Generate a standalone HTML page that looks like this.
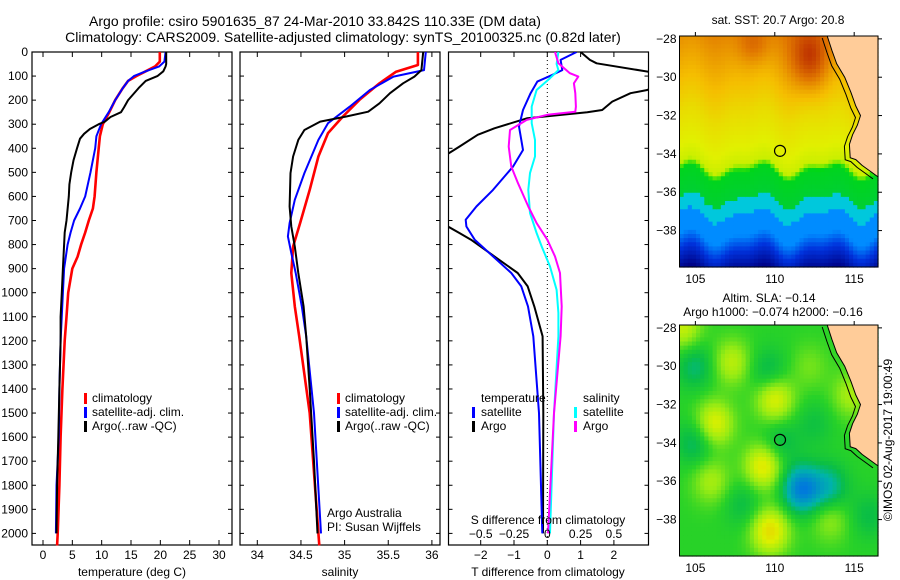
<!DOCTYPE html>
<html><head><meta charset="utf-8"><style>
body{margin:0;background:#fff;}
svg{display:block;font-family:"Liberation Sans",sans-serif;}
</style></head><body>
<svg id="fig" width="900" height="580" viewBox="0 0 900 580" xmlns="http://www.w3.org/2000/svg">
<rect width="900" height="580" fill="#fff"/>
<text x="315" y="26" font-size="14" text-anchor="middle">Argo profile: csiro 5901635_87 24-Mar-2010 33.842S 110.33E (DM data)</text>
<text x="343" y="42" font-size="14" text-anchor="middle">Climatology: CARS2009. Satellite-adjusted climatology: synTS_20100325.nc (0.82d later)</text>
<g id="g1"></g>
<g id="g2"></g>
<g id="g3"></g>
<g id="m1"></g>
<g id="m2"></g>
<text x="0" y="0" font-size="12" transform="translate(892,440) rotate(-90)" text-anchor="middle">©IMOS 02-Aug-2017 19:00:49</text>
</svg>
<script>
// ---------- data ----------
const tempArgoDepth=[0,50,60,80,100,120,150,200,230,250,270,290,300,320,340,360,400,450,500,550,600,700,750,800,900,1000,1100,1200,1400,1600,1800,2000];
const tempArgo=[21,21,20.9,20.5,19.5,17.5,16.3,14.5,13.8,13.3,11.5,10.5,9.5,8,7,6.3,5.8,5.2,4.8,4.5,4.4,4.0,3.7,3.6,3.4,3.2,3.0,3.0,2.8,2.6,2.4,2.3];
const tempClimDepth=[0,40,60,80,100,120,150,200,250,300,350,400,500,600,650,700,750,800,850,900,1000,1100,1200,1400,1600,1800,2000,2050];
const tempClim=[19.9,19.9,19.1,17.5,15.9,14.5,13.6,12.3,11.3,10.2,9.7,9.5,9.1,8.8,8.5,7.8,7.2,6.5,5.9,5.0,4.3,4.0,3.7,3.3,3.0,2.8,2.5,2.4];
const tempSatDepth=[0,40,60,80,100,120,150,200,250,300,350,400,500,600,650,700,750,800,900,1000,1200,1400,1600,1800,2000];
const tempSat=[20.9,20.7,19.8,17.5,15.5,14.5,13.6,12.3,11.2,9.9,9.1,8.9,8.1,7.2,6.3,5.3,4.7,4.2,3.6,3.4,3.0,2.8,2.7,2.3,2.2];

const salArgoDepth=[0,75,102,130,171,213,248,268,289,324,365,434,503,642,725,808,918,1057,1181,1400,1700,2000];
const salArgo=[35.90,35.88,35.80,35.67,35.52,35.40,35.27,35.02,34.72,34.54,34.47,34.41,34.38,34.37,34.39,34.43,34.47,34.53,34.56,34.60,34.65,34.69];
const salClimDepth=[0,54,82,130,199,268,337,434,573,711,808,918,1057,1181,1500,2000,2050];
const salClim=[35.84,35.84,35.59,35.40,35.17,34.98,34.81,34.70,34.60,34.49,34.41,34.39,34.43,34.48,34.60,34.70,34.71];
const salSatDepth=[0,75,102,158,227,296,365,503,614,711,766,835,918,1057,1181,1500,2000];
const salSat=[35.93,35.91,35.56,35.29,35.06,34.81,34.70,34.54,34.43,34.37,34.35,34.39,34.44,34.51,34.56,34.65,34.73];

const dTArgoDepth=[0,33,47,88,120,158,171,206,241,250,275,317,344,393,450,700,752,780,849,918,974,1057,1181,1500,2000];
const dTArgo=[1.0,1.28,1.48,3.3,3.6,3.0,2.5,1.95,1.65,1.2,-0.6,-1.59,-2.09,-2.64,-3.3,-3.3,-2.64,-2.29,-1.59,-0.89,-0.59,-0.39,-0.14,-0.12,-0.13];
const dTSatDepth=[0,33,75,95,123,171,241,310,365,407,476,573,642,697,725,780,849,918,974,1057,1181,1500,2000];
const dTSat=[0.88,0.4,0.45,0.15,-0.3,-0.5,-0.73,-0.85,-0.78,-0.73,-1.03,-1.63,-2.13,-2.45,-2.43,-2.18,-1.63,-1.08,-0.78,-0.58,-0.42,-0.25,-0.15];
const dSSatDepth=[0,50,75,109,158,227,296,365,434,503,573,669,752,808,891,988,1084,1181,1500,2000];
const dSSat=[0.083,0.07,0.083,0.02,-0.08,-0.117,-0.117,-0.092,-0.092,-0.13,-0.143,-0.13,-0.08,-0.042,0.02,0.07,0.083,0.083,0.05,0.02];
const dSArgoDepth=[0,47,88,102,130,171,227,248,261,282,324,393,476,545,642,711,780,849,918,1057,1181,1500,2000];
const dSArgo=[0.058,0.083,0.17,0.233,0.2,0.21,0.215,0.21,0.0,-0.155,-0.28,-0.29,-0.27,-0.22,-0.143,-0.08,0.0,0.058,0.095,0.108,0.1,0.05,0.005];

const depthTicks=[0,100,200,300,400,500,600,700,800,900,1000,1100,1200,1300,1400,1500,1600,1700,1800,1900,2000];
const tempTicks=[0,5,10,15,20,25,30];
const salTicks=[34,34.5,35,35.5,36];
const salTickLabels=["34","34.5","35","35.5","36"];
const dTTicks=[-2,-1,0,1,2];
const dSTicks=[-0.5,-0.25,0,0.25,0.5];
const dSTickLabels=["\u22120.5","\u22120.25","0","0.25","0.5"];
const latTicks=[-28,-30,-32,-34,-36,-38];
const lonTicks=[105,110,115];
const argoLon=110.33, argoLat=-33.842;

// ---------- helpers ----------
const NS="http://www.w3.org/2000/svg";
function mk(parent,tag,attrs){const e=document.createElementNS(NS,tag);for(const k in attrs)e.setAttribute(k,attrs[k]);parent.appendChild(e);return e;}
function txt(parent,x,y,s,size,anchor){const t=mk(parent,'text',{x:x,y:y,'font-size':size||12,'text-anchor':anchor||'middle'});t.textContent=s;return t;}
const top0=52,bot0=545;
const yD=d=>top0+d*0.2407;
const xT=t=>43+t*5.867;
const xS=s=>257.3+(s-34)*87.3;
const xdT=t=>547.3+t*33.3;
const xdS=s=>547.3+s*133.2;
function path(g,xs,ys,fx,color,w,name,clip){
  const d=xs.map((v,i)=>(i?'L':'M')+fx(v).toFixed(1)+','+yD(ys[i]).toFixed(1)).join('');
  const p=mk(g,'path',{d:d,fill:'none',stroke:color,'stroke-width':w,'stroke-linejoin':'round'});
  if(clip)p.setAttribute('clip-path','url(#'+clip+')');
  
  
}
function frame(g,x0,x1,name){
  const r=mk(g,'rect',{x:x0,y:top0,width:x1-x0,height:bot0-top0,fill:'none',stroke:'#000','stroke-width':1.2});
  
  
  depthTicks.forEach(d=>{mk(g,'line',{x1:x0,x2:x0+4,y1:yD(d),y2:yD(d),stroke:'#000'});mk(g,'line',{x1:x1,x2:x1-4,y1:yD(d),y2:yD(d),stroke:'#000'});});
}
function xticks(g,vals,fx,labels,ly){
  vals.forEach((v,i)=>{const x=fx(v);mk(g,'line',{x1:x,x2:x,y1:top0,y2:top0+5,stroke:'#000'});mk(g,'line',{x1:x,x2:x,y1:bot0,y2:bot0-5,stroke:'#000'});
    const t=txt(g,x,ly,labels?labels[i]:String(v).replace('-','\u2212'),12);
    
    });
}
function legendBar(g,x,y,color){mk(g,'rect',{x:x,y:y-10,width:3,height:11,fill:color});}

const defs=mk(document.getElementById('fig'),'defs',{});
const cp=mk(defs,'clipPath',{id:'c3'});mk(cp,'rect',{x:448.5,y:top0,width:200,height:bot0-top0});

// ---------- panel 1 ----------
const g1=document.getElementById('g1');
frame(g1,32,232,'temperature-plot-frame');
xticks(g1,tempTicks,xT,null,559);
depthTicks.forEach(d=>{const t=txt(g1,28,yD(d)+4,String(d),12,'end');
  
  });
const xl1=txt(g1,132,576,'temperature (deg C)',12);


path(g1,tempClim,tempClimDepth,xT,'#ff0000',2.6,'temp-climatology-line');
path(g1,tempSat,tempSatDepth,xT,'#0000ff',2,'temp-satellite-line');
path(g1,tempArgo,tempArgoDepth,xT,'#000',2,'temp-argo-line');
[['climatology','#ff0000'],['satellite-adj. clim.','#0000ff'],['Argo(..raw -QC)','#000']].forEach((l,i)=>{
  legendBar(g1,84,403+i*14,l[1]);const t=txt(g1,92,402+i*14,l[0],12,'start');
  
  });

// ---------- panel 2 ----------
const g2=document.getElementById('g2');
frame(g2,240,440,'salinity-plot-frame');
xticks(g2,salTicks,xS,salTickLabels,559);
const xl2=txt(g2,340,576,'salinity',12);


path(g2,salClim,salClimDepth,xS,'#ff0000',2.6,'sal-climatology-line');
path(g2,salSat,salSatDepth,xS,'#0000ff',2,'sal-satellite-line');
path(g2,salArgo,salArgoDepth,xS,'#000',2,'sal-argo-line');
[['climatology','#ff0000'],['satellite-adj. clim.','#0000ff'],['Argo(..raw -QC)','#000']].forEach((l,i)=>{
  legendBar(g2,337,403+i*14,l[1]);const t=txt(g2,345,402+i*14,l[0],12,'start');
  
  });
txt(g2,327,517,'Argo Australia',12,'start');
txt(g2,327,531,'PI: Susan Wijffels',12,'start');

// ---------- panel 3 ----------
const g3=document.getElementById('g3');
frame(g3,448.5,648.5,'difference-plot-frame');
xticks(g3,dTTicks,xdT,null,559);
mk(g3,'line',{x1:547.3,x2:547.3,y1:top0,y2:bot0,stroke:'#000','stroke-dasharray':'1,3'});
const xl3=txt(g3,548,576,'T difference from climatology',12);


path(g3,dTArgo,dTArgoDepth,xdT,'#000',2,'t-diff-argo-line','c3');
path(g3,dTSat,dTSatDepth,xdT,'#0000ff',2,'t-diff-satellite-line','c3');
path(g3,dSSat,dSSatDepth,xdS,'#00ffff',2,'s-diff-satellite-line','c3');
path(g3,dSArgo,dSArgoDepth,xdS,'#ff00ff',2,'s-diff-argo-line','c3');
txt(g3,548,524,'S difference from climatology',12);
dSTicks.forEach((v,i)=>{const t=txt(g3,xdS(v),538,dSTickLabels[i],12);
  
  });
txt(g3,481,402,'temperature',12,'start');
txt(g3,583,402,'salinity',12,'start');
legendBar(g3,472,417,'#0000ff');txt(g3,481,416,'satellite',12,'start');
legendBar(g3,472,431,'#000');txt(g3,481,430,'Argo',12,'start');
legendBar(g3,574,417,'#00ffff');txt(g3,583,416,'satellite',12,'start');
legendBar(g3,574,431,'#ff00ff');txt(g3,583,430,'Argo',12,'start');

// ---------- maps ----------
const lon0=104.0,lon1=116.5,lat0=-27.85,lat1=-39.9,mx0=679.5,mx1=878;
function lerp(a,b,t){return a+(b-a)*t;}
function cmap(stops,v){v=Math.max(0,Math.min(1,v));for(let i=1;i<stops.length;i++){if(v<=stops[i][0]){const a=stops[i-1],b=stops[i];const t=(v-a[0])/(b[0]-a[0]);return 'rgb('+[1,2,3].map(k=>Math.round(lerp(a[k],b[k],t))).join(',')+')';}}const l=stops[stops.length-1];return 'rgb('+l[1]+','+l[2]+','+l[3]+')';}
const jet=[[0,0,0,130],[0.12,0,50,220],[0.2,0,140,255],[0.28,0,200,220],[0.36,0,205,60],[0.44,0,215,20],[0.52,130,235,0],[0.6,225,240,0],[0.7,245,190,0],[0.82,225,120,0],[0.92,200,70,0],[1,175,20,0]];
const sstField=(lon,lat)=>{const w=0.55*Math.sin(lon*1.4)+0.3*Math.sin(lon*2.7+1);const l=lat-w*0.6;
  let v; if(l>-32)v=0.64+(l+32)*0.035; else if(l>-34.6)v=0.58+(l+34.6)*0.023; else if(l>-35)v=0.42+(l+35)*0.4; else if(l>-36.4)v=0.42-(-35-l)*0.03; else if(l>-37.2)v=0.28; else if(l>-38.3)v=0.2; else v=0.2-(-38.3-l)*0.1;
  v+=0.2*Math.exp(-((lon-112.2)**2/1.3+(lat+29)**2/2.5))+0.08*Math.exp(-((lon-108.7)**2/1+(lat+28.3)**2/1)); return v;};
const slaBlobs=[[106.2,-33,0.25],[109.3,-35.2,0.28],[110,-31.7,0.25],[109.7,-38.6,0.3],[106,-36,0.15],[107.3,-29.8,0.18],[114.8,-31.5,0.15],[104.2,-28,0.2],[113.5,-38,0.12],[105,-30,-0.15],[105,-34,-0.15],[110.3,-34,-0.12],[111.7,-36.4,-0.4],[113.4,-36.3,-0.2],[109.6,-30.3,-0.13],[112.5,-33,-0.08],[115.9,-37.8,-0.1],[108,-37.2,-0.1],[112.2,-30,0.08]];
const slaStops=[[0,0,110,230],[0.25,0,180,170],[0.36,10,190,70],[0.46,40,210,40],[0.58,150,235,20],[0.7,220,240,0],[0.85,240,190,0],[1,240,140,0]];
const slaField=(lon,lat)=>{let v=0.46;slaBlobs.forEach(b=>{v+=b[2]*Math.exp(-((lon-b[0])**2+(lat-b[1])**2)/1.4);});return v;};
const coastLon=[113.3,113.6,113.9,114.4,114.8,115.1,115.4,115.2,114.9,114.7,114.75,115.1,115.5,116.0,116.5];
const coastLat=[-27.85,-28.6,-29.3,-30.0,-30.8,-31.5,-32.0,-32.5,-33.0,-33.5,-34.2,-34.3,-34.6,-34.9,-35.2];
function drawMap(g,y0,y1,field,stops,title,name){
  const X=lo=>mx0+(lo-lon0)/(lon1-lon0)*(mx1-mx0), Y=la=>y0+(la-lat0)/(lat1-lat0)*(y1-y0);
  const n=48,m=56,cw=(mx1-mx0)/n,ch=(y1-y0)/m;
  for(let i=0;i<n;i++)for(let j=0;j<m;j++){const lo=lon0+(i+0.5)/n*(lon1-lon0),la=lat0+(j+0.5)/m*(lat1-lat0);
    mk(g,'rect',{x:(mx0+i*cw).toFixed(2),y:(y0+j*ch).toFixed(2),width:(cw+0.6).toFixed(2),height:(ch+0.6).toFixed(2),fill:cmap(stops,field(lo,la))});}
  let d='M'+X(coastLon[0])+','+Y(coastLat[0]);coastLon.forEach((lo,i)=>d+='L'+X(lo).toFixed(1)+','+Y(coastLat[i]).toFixed(1));
  mk(g,'path',{d:d+'L'+mx1+','+Y(-35.2)+'L'+mx1+','+y0+'Z',fill:'#ffcc99'});
  mk(g,'path',{d:d,fill:'none',stroke:'#000','stroke-width':1});
  let d2='';coastLon.forEach((lo,i)=>d2+=(i?'L':'M')+(X(lo)-5).toFixed(1)+','+(Y(coastLat[i])+2).toFixed(1));
  mk(g,'path',{d:d2,fill:'none',stroke:'#000','stroke-width':1});
  mk(g,'rect',{x:mx0,y:y0,width:mx1-mx0,height:y1-y0,fill:'none',stroke:'#000'});
  const c=mk(g,'circle',{cx:X(argoLon),cy:Y(argoLat),r:5.5,fill:'none',stroke:'#000','stroke-width':1.2});
  
  
  latTicks.forEach(la=>{mk(g,'line',{x1:mx1,x2:mx1+4,y1:Y(la),y2:Y(la),stroke:'#000'});const t=txt(g,mx0-3,Y(la)+4,'\u2212'+(-la),12,'end');
    
    });
  lonTicks.forEach(lo=>{mk(g,'line',{x1:X(lo),x2:X(lo),y1:y0-4,y2:y0,stroke:'#000'});const t=txt(g,X(lo),y1+16,String(lo),12);
    
    });
  title.forEach((s,i)=>{const t=txt(g,s[1],s[2],s[0],12);});
}
drawMap(document.getElementById('m1'),36,267,sstField,jet,[['sat. SST: 20.7 Argo: 20.8',778,24]],'sst-map');
drawMap(document.getElementById('m2'),325,556,slaField,slaStops,[['Altim. SLA: \u22120.14',769,302],['Argo h1000: \u22120.074 h2000: \u22120.16',773,316]],'sla-map');
</script>
</body></html>
